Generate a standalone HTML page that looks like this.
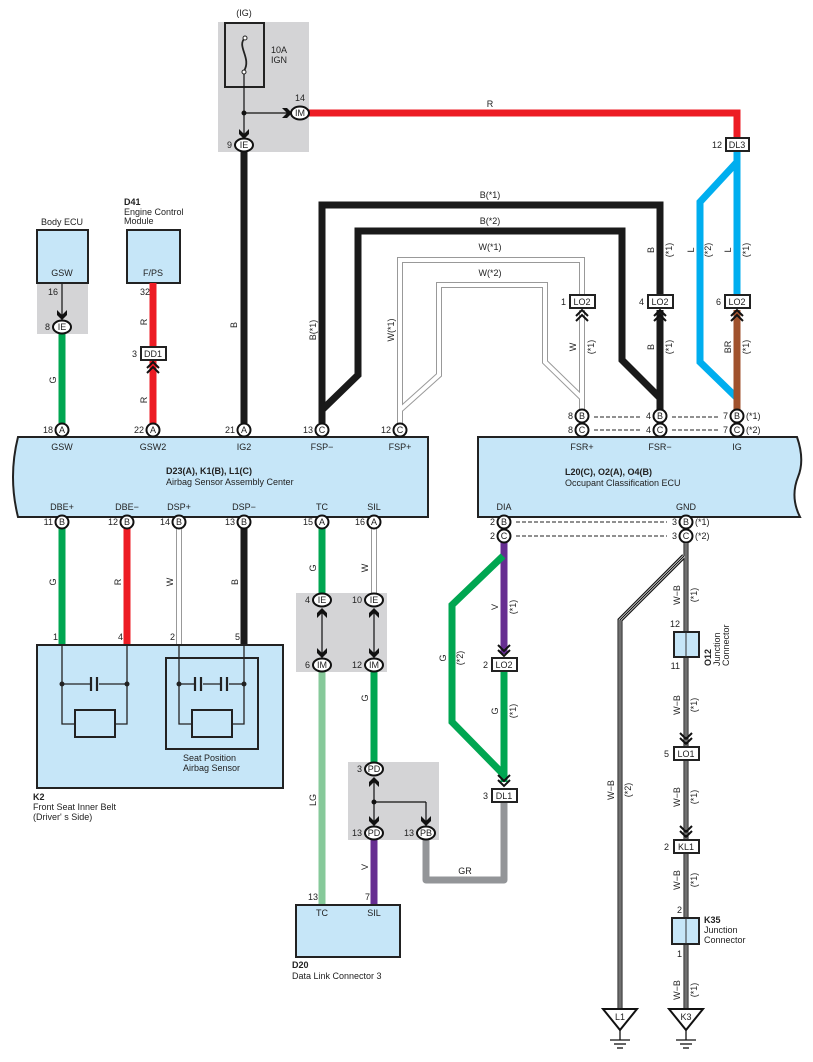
<!DOCTYPE html>
<html><head><meta charset="utf-8"><style>
html,body{margin:0;padding:0;background:#fff}
svg{display:block}
text{font-family:"Liberation Sans",Arial,sans-serif;font-size:9px;fill:#222}
.b{font-weight:bold}
.m{text-anchor:middle}
.e{text-anchor:end}
</style></head><body>
<svg width="813" height="1062" viewBox="0 0 813 1062" xmlns="http://www.w3.org/2000/svg">
<defs>
<path id="ad" d="M-5,-9 L0,-4 L5,-9 L5,-4 L0,1 L-5,-4 Z" fill="#111"/>
<path id="au" d="M-5,9 L0,4 L5,9 L5,4 L0,-1 L-5,4 Z" fill="#111"/>
<g id="cu" fill="none" stroke="#111" stroke-width="2"><polyline points="-6,5 0,-1 6,5"/><polyline points="-6,10 0,4 6,10"/></g>
<g id="cd" fill="none" stroke="#111" stroke-width="2"><polyline points="-6,-5 0,1 6,-5"/><polyline points="-6,-10 0,-4 6,-10"/></g>
</defs>

<rect x="218" y="22" width="91" height="130" fill="#d4d4d6"/>
<rect x="37" y="283" width="51" height="51" fill="#d4d4d6"/>
<rect x="296" y="593" width="91" height="79" fill="#d4d4d6"/>
<rect x="348" y="762" width="91" height="78" fill="#d4d4d6"/>

<text x="244" y="16" class="m">(IG)</text>
<rect x="225" y="23" width="39" height="64" fill="none" stroke="#222" stroke-width="2"/>
<path d="M245,38 C236,46 252,58 244,71" fill="none" stroke="#222" stroke-width="1.8"/>
<circle cx="245" cy="38" r="2" fill="#fff" stroke="#222"/><circle cx="244" cy="72" r="2" fill="#fff" stroke="#222"/>
<text x="271" y="53">10A</text><text x="271" y="63">IGN</text>
<line x1="244" y1="74" x2="244" y2="137" stroke="#111" stroke-width="1.2"/>
<line x1="244" y1="113" x2="288" y2="113" stroke="#111" stroke-width="1.2"/>
<circle cx="244" cy="113" r="2.5" fill="#111"/>
<use href="#ad" x="244" y="138"/>
<path d="M282,108 L287,113 L282,118 L287,118 L292,113 L287,108Z" fill="#111"/>

<polyline points="309,113 737,113 737,138" fill="none" stroke="#ed1c24" stroke-width="7"/>
<text x="490" y="107" class="m">R</text>
<text x="300" y="101" class="m">14</text>

<line x1="244" y1="152" x2="244" y2="423" stroke="#1a1a1a" stroke-width="7"/>

<text x="62" y="225" class="m">Body ECU</text>
<rect x="37" y="230" width="51" height="53" fill="#c6e6f8" stroke="#222" stroke-width="2"/>
<text x="62" y="276" class="m">GSW</text>
<text x="53" y="295" class="m">16</text>
<line x1="62" y1="284" x2="62" y2="318" stroke="#111" stroke-width="1.2"/>
<use href="#ad" x="62" y="319"/>
<line x1="62" y1="334" x2="62" y2="423" stroke="#00a651" stroke-width="7"/>

<text x="124" y="205" class="b">D41</text>
<text x="124" y="215">Engine Control</text><text x="124" y="224">Module</text>
<rect x="127" y="230" width="53" height="53" fill="#c6e6f8" stroke="#222" stroke-width="2"/>
<text x="153" y="276" class="m">F/PS</text>
<line x1="153" y1="283" x2="153" y2="423" stroke="#ed1c24" stroke-width="7"/>
<text x="145" y="295" class="m">32</text>

<polyline points="322,423 322,205 660,205 660,300" fill="none" stroke="#1a1a1a" stroke-width="7"/>
<polyline points="322,410 358,375 358,231 622,231 622,360 660,398 660,423" fill="none" stroke="#1a1a1a" stroke-width="7"/>
<line x1="660" y1="310" x2="660" y2="423" stroke="#1a1a1a" stroke-width="7"/>
<g fill="none" stroke="#999" stroke-width="6"><polyline points="400,423 400,260 582,260 582,300"/><polyline points="400,410 439,375 439,285 545,285 545,362 582,398 582,423"/><line x1="582" y1="310" x2="582" y2="423"/></g>
<g fill="none" stroke="#fff" stroke-width="4"><polyline points="400,423 400,260 582,260 582,300"/><polyline points="400,410 439,375 439,285 545,285 545,362 582,398 582,423"/><line x1="582" y1="310" x2="582" y2="423"/></g>
<polyline points="737,152 737,300" fill="none" stroke="#00aeef" stroke-width="7"/>
<polyline points="737,162 700,202 700,362 737,398" fill="none" stroke="#00aeef" stroke-width="7"/>
<line x1="737" y1="310" x2="737" y2="423" stroke="#a0522d" stroke-width="7"/>

<text x="490" y="198" class="m">B(*1)</text>
<text x="490" y="224" class="m">B(*2)</text>
<text x="490" y="250" class="m">W(*1)</text>
<text x="490" y="276" class="m">W(*2)</text>
<g font-size="9">
<text transform="translate(237,325) rotate(-90)" class="m">B</text>
<text transform="translate(316,330) rotate(-90)" class="m">B(*1)</text>
<text transform="translate(394,330) rotate(-90)" class="m">W(*1)</text>
<text transform="translate(56,380) rotate(-90)" class="m">G</text>
<text transform="translate(147,322) rotate(-90)" class="m">R</text>
<text transform="translate(147,400) rotate(-90)" class="m">R</text>
<text transform="translate(654,250) rotate(-90)" class="m">B</text>
<text transform="translate(672,250) rotate(-90)" class="m">(*1)</text>
<text transform="translate(654,347) rotate(-90)" class="m">B</text>
<text transform="translate(672,347) rotate(-90)" class="m">(*1)</text>
<text transform="translate(576,347) rotate(-90)" class="m">W</text>
<text transform="translate(594,347) rotate(-90)" class="m">(*1)</text>
<text transform="translate(694,250) rotate(-90)" class="m">L</text>
<text transform="translate(711,250) rotate(-90)" class="m">(*2)</text>
<text transform="translate(731,250) rotate(-90)" class="m">L</text>
<text transform="translate(749,250) rotate(-90)" class="m">(*1)</text>
<text transform="translate(731,347) rotate(-90)" class="m">BR</text>
<text transform="translate(749,347) rotate(-90)" class="m">(*1)</text>
</g>

<g fill="#fff" stroke="#222" stroke-width="2">
<rect x="570" y="295" width="25" height="13"/><rect x="648" y="295" width="25" height="13"/><rect x="725" y="295" width="25" height="13"/>
<rect x="141" y="347" width="25" height="13"/><rect x="726" y="138" width="23" height="13"/>
</g>
<text x="582" y="305" class="m">LO2</text><text x="660" y="305" class="m">LO2</text><text x="737" y="305" class="m">LO2</text>
<text x="153" y="357" class="m">DD1</text><text x="737" y="148" class="m">DL3</text>
<text x="566" y="305" class="e">1</text><text x="644" y="305" class="e">4</text><text x="721" y="305" class="e">6</text>
<text x="137" y="357" class="e">3</text><text x="722" y="148" class="e">12</text>
<use href="#cu" x="582" y="311"/><use href="#cu" x="660" y="311"/><use href="#cu" x="737" y="311"/><use href="#cu" x="153" y="363"/>

<g fill="#fff" stroke="#111" stroke-width="2">
<ellipse cx="244" cy="145" rx="9" ry="6.5"/><ellipse cx="300" cy="113" rx="9" ry="6.5"/><ellipse cx="62" cy="327" rx="9" ry="6.5"/>
</g>
<text x="244" y="148" class="m">IE</text><text x="300" y="116" class="m">IM</text><text x="62" y="330" class="m">IE</text>
<text x="232" y="148" class="e">9</text><text x="50" y="330" class="e">8</text>

<path d="M18,437 L428,437 L428,517 L18,517 Q8,477 18,437Z" fill="#c6e6f8" stroke="#222" stroke-width="2"/>
<text x="62" y="450" class="m">GSW</text><text x="153" y="450" class="m">GSW2</text><text x="244" y="450" class="m">IG2</text><text x="322" y="450" class="m">FSP−</text><text x="400" y="450" class="m">FSP+</text>
<text x="62" y="510" class="m">DBE+</text><text x="127" y="510" class="m">DBE−</text><text x="179" y="510" class="m">DSP+</text><text x="244" y="510" class="m">DSP−</text><text x="322" y="510" class="m">TC</text><text x="374" y="510" class="m">SIL</text>
<text x="166" y="474" class="b">D23(A), K1(B), L1(C)</text>
<text x="166" y="485">Airbag Sensor Assembly Center</text>

<path d="M478,437 L797,437 Q805,460 798,477 Q790,497 800,517 L478,517Z" fill="#c6e6f8" stroke="#222" stroke-width="2"/>
<text x="582" y="450" class="m">FSR+</text><text x="660" y="450" class="m">FSR−</text><text x="737" y="450" class="m">IG</text>
<text x="504" y="510" class="m">DIA</text><text x="686" y="510" class="m">GND</text>
<text x="565" y="475" class="b">L20(C), O2(A), O4(B)</text>
<text x="565" y="486">Occupant Classification ECU</text>

<g stroke="#222" stroke-width="1" stroke-dasharray="4,2">
<line x1="594" y1="417" x2="641" y2="417"/><line x1="594" y1="430" x2="641" y2="430"/>
<line x1="672" y1="417" x2="718" y2="417"/><line x1="672" y1="430" x2="718" y2="430"/>
<line x1="516" y1="522" x2="667" y2="522"/><line x1="516" y1="536" x2="667" y2="536"/>
</g>

<line x1="62" y1="528" x2="62" y2="645" stroke="#00a651" stroke-width="7"/>
<line x1="127" y1="528" x2="127" y2="645" stroke="#ed1c24" stroke-width="7"/>
<line x1="179" y1="528" x2="179" y2="645" stroke="#999" stroke-width="6"/><line x1="179" y1="528" x2="179" y2="645" stroke="#fff" stroke-width="4"/>
<line x1="244" y1="528" x2="244" y2="645" stroke="#1a1a1a" stroke-width="7"/>
<line x1="322" y1="528" x2="322" y2="593" stroke="#00a651" stroke-width="7"/>
<line x1="374" y1="528" x2="374" y2="593" stroke="#999" stroke-width="6"/><line x1="374" y1="528" x2="374" y2="593" stroke="#fff" stroke-width="4"/>
<line x1="322" y1="672" x2="322" y2="905" stroke="#86c99a" stroke-width="7"/>
<line x1="374" y1="672" x2="374" y2="762" stroke="#00a651" stroke-width="7"/>
<line x1="374" y1="840" x2="374" y2="905" stroke="#662d91" stroke-width="7"/>
<polyline points="426,840 426,880 504,880 504,802" fill="none" stroke="#939598" stroke-width="7" stroke-linejoin="round"/>
<line x1="504" y1="542" x2="504" y2="654" stroke="#662d91" stroke-width="7"/>
<line x1="504" y1="671" x2="504" y2="782" stroke="#00a651" stroke-width="7"/>
<polyline points="503,556 452,605 452,722 503,774" fill="none" stroke="#00a651" stroke-width="7"/>

<g font-size="9">
<text transform="translate(56,582) rotate(-90)" class="m">G</text>
<text transform="translate(121,582) rotate(-90)" class="m">R</text>
<text transform="translate(173,582) rotate(-90)" class="m">W</text>
<text transform="translate(238,582) rotate(-90)" class="m">B</text>
<text transform="translate(316,568) rotate(-90)" class="m">G</text>
<text transform="translate(368,568) rotate(-90)" class="m">W</text>
<text transform="translate(368,698) rotate(-90)" class="m">G</text>
<text transform="translate(316,800) rotate(-90)" class="m">LG</text>
<text transform="translate(368,867) rotate(-90)" class="m">V</text>
<text transform="translate(498,607) rotate(-90)" class="m">V</text>
<text transform="translate(516,607) rotate(-90)" class="m">(*1)</text>
<text transform="translate(446,658) rotate(-90)" class="m">G</text>
<text transform="translate(463,658) rotate(-90)" class="m">(*2)</text>
<text transform="translate(498,711) rotate(-90)" class="m">G</text>
<text transform="translate(516,711) rotate(-90)" class="m">(*1)</text>
</g>
<text x="465" y="874" class="m">GR</text>

<g fill="#fff" stroke="#111" stroke-width="2">
<circle cx="62" cy="430" r="6.5"/><circle cx="153" cy="430" r="6.5"/><circle cx="244" cy="430" r="6.5"/><circle cx="322" cy="430" r="6.5"/><circle cx="400" cy="430" r="6.5"/>
<circle cx="582" cy="416" r="6.5"/><circle cx="660" cy="416" r="6.5"/><circle cx="737" cy="416" r="6.5"/>
<circle cx="582" cy="430" r="6.5"/><circle cx="660" cy="430" r="6.5"/><circle cx="737" cy="430" r="6.5"/>
<circle cx="62" cy="522" r="6.5"/><circle cx="127" cy="522" r="6.5"/><circle cx="179" cy="522" r="6.5"/><circle cx="244" cy="522" r="6.5"/><circle cx="322" cy="522" r="6.5"/><circle cx="374" cy="522" r="6.5"/>
<circle cx="504" cy="522" r="6.5"/><circle cx="504" cy="536" r="6.5"/><circle cx="686" cy="522" r="6.5"/><circle cx="686" cy="536" r="6.5"/>
</g>
<g font-size="8.5">
<text x="62" y="433" class="m">A</text><text x="153" y="433" class="m">A</text><text x="244" y="433" class="m">A</text><text x="322" y="433" class="m">C</text><text x="400" y="433" class="m">C</text>
<text x="582" y="419" class="m">B</text><text x="660" y="419" class="m">B</text><text x="737" y="419" class="m">B</text>
<text x="582" y="433" class="m">C</text><text x="660" y="433" class="m">C</text><text x="737" y="433" class="m">C</text>
<text x="62" y="525" class="m">B</text><text x="127" y="525" class="m">B</text><text x="179" y="525" class="m">B</text><text x="244" y="525" class="m">B</text><text x="322" y="525" class="m">A</text><text x="374" y="525" class="m">A</text>
<text x="504" y="525" class="m">B</text><text x="504" y="539" class="m">C</text><text x="686" y="525" class="m">B</text><text x="686" y="539" class="m">C</text>
</g>
<text x="53" y="433" class="e">18</text><text x="144" y="433" class="e">22</text><text x="235" y="433" class="e">21</text><text x="313" y="433" class="e">13</text><text x="391" y="433" class="e">12</text>
<text x="573" y="419" class="e">8</text><text x="573" y="433" class="e">8</text><text x="651" y="419" class="e">4</text><text x="651" y="433" class="e">4</text><text x="728" y="419" class="e">7</text><text x="728" y="433" class="e">7</text>
<text x="746" y="419">(*1)</text><text x="746" y="433">(*2)</text>
<text x="53" y="525" class="e">11</text><text x="118" y="525" class="e">12</text><text x="170" y="525" class="e">14</text><text x="235" y="525" class="e">13</text><text x="313" y="525" class="e">15</text><text x="365" y="525" class="e">16</text>
<text x="495" y="525" class="e">2</text><text x="495" y="539" class="e">2</text><text x="677" y="525" class="e">3</text><text x="677" y="539" class="e">3</text>
<text x="695" y="525">(*1)</text><text x="695" y="539">(*2)</text>

<rect x="37" y="645" width="246" height="143" fill="#c6e6f8" stroke="#222" stroke-width="2"/>
<rect x="166" y="658" width="92" height="91" fill="none" stroke="#222" stroke-width="2"/>
<g stroke="#222" stroke-width="1.3" fill="none">
<polyline points="62,645 62,724 75,724"/><polyline points="127,645 127,724 115,724"/>
<line x1="62" y1="684" x2="90" y2="684"/><line x1="99" y1="684" x2="127" y2="684"/>
<polyline points="179,645 179,724 192,724"/><polyline points="244,645 244,724 232,724"/>
<line x1="179" y1="684" x2="194" y2="684"/><line x1="203" y1="684" x2="220" y2="684"/><line x1="229" y1="684" x2="244" y2="684"/>
</g>
<g stroke="#222" stroke-width="2.2">
<line x1="91" y1="677" x2="91" y2="691"/><line x1="97" y1="677" x2="97" y2="691"/>
<line x1="195" y1="677" x2="195" y2="691"/><line x1="201" y1="677" x2="201" y2="691"/>
<line x1="221" y1="677" x2="221" y2="691"/><line x1="227" y1="677" x2="227" y2="691"/>
</g>
<rect x="75" y="710" width="40" height="27" fill="none" stroke="#222" stroke-width="2"/>
<rect x="192" y="710" width="40" height="27" fill="none" stroke="#222" stroke-width="2"/>
<g fill="#222"><circle cx="62" cy="684" r="2.5"/><circle cx="127" cy="684" r="2.5"/><circle cx="179" cy="684" r="2.5"/><circle cx="244" cy="684" r="2.5"/></g>
<text x="58" y="640" class="e">1</text><text x="123" y="640" class="e">4</text><text x="175" y="640" class="e">2</text><text x="240" y="640" class="e">5</text>
<text x="183" y="761">Seat Position</text><text x="183" y="771">Airbag Sensor</text>
<text x="33" y="800" class="b">K2</text><text x="33" y="810">Front Seat Inner Belt</text><text x="33" y="820">(Driver' s Side)</text>

<g stroke="#111" stroke-width="1.2"><line x1="322" y1="610" x2="322" y2="656"/><line x1="374" y1="610" x2="374" y2="656"/>
<line x1="374" y1="778" x2="374" y2="824"/><line x1="374" y1="802" x2="426" y2="802"/><line x1="426" y1="802" x2="426" y2="824"/></g>
<use href="#au" x="322" y="609"/><use href="#ad" x="322" y="657"/><use href="#au" x="374" y="609"/><use href="#ad" x="374" y="657"/>
<use href="#au" x="374" y="778"/><use href="#ad" x="374" y="825"/><use href="#ad" x="426" y="825"/>
<circle cx="374" cy="802" r="2.5" fill="#111"/>
<g fill="#fff" stroke="#111" stroke-width="2">
<ellipse cx="322" cy="600" rx="9" ry="6.5"/><ellipse cx="374" cy="600" rx="9" ry="6.5"/><ellipse cx="322" cy="665" rx="9" ry="6.5"/><ellipse cx="374" cy="665" rx="9" ry="6.5"/>
<ellipse cx="374" cy="769" rx="9" ry="6.5"/><ellipse cx="374" cy="833" rx="9" ry="6.5"/><ellipse cx="426" cy="833" rx="9" ry="6.5"/>
</g>
<text x="322" y="603" class="m">IE</text><text x="374" y="603" class="m">IE</text><text x="322" y="668" class="m">IM</text><text x="374" y="668" class="m">IM</text>
<text x="374" y="772" class="m">PD</text><text x="374" y="836" class="m">PD</text><text x="426" y="836" class="m">PB</text>
<text x="310" y="603" class="e">4</text><text x="362" y="603" class="e">10</text><text x="310" y="668" class="e">6</text><text x="362" y="668" class="e">12</text>
<text x="362" y="772" class="e">3</text><text x="362" y="836" class="e">13</text><text x="414" y="836" class="e">13</text>

<rect x="296" y="905" width="104" height="52" fill="#c6e6f8" stroke="#222" stroke-width="2"/>
<text x="322" y="916" class="m">TC</text><text x="374" y="916" class="m">SIL</text>
<text x="318" y="900" class="e">13</text><text x="370" y="900" class="e">7</text>
<text x="292" y="968" class="b">D20</text><text x="292" y="979">Data Link Connector 3</text>

<use href="#cd" x="504" y="655"/><use href="#cd" x="504" y="785"/>
<g fill="#fff" stroke="#222" stroke-width="2"><rect x="492" y="658" width="25" height="13"/><rect x="492" y="789" width="25" height="13"/></g>
<text x="504" y="668" class="m">LO2</text><text x="504" y="799" class="m">DL1</text>
<text x="488" y="668" class="e">2</text><text x="488" y="799" class="e">3</text>

<g fill="none" stroke="#111" stroke-width="5"><polyline points="686,543 686,1012"/><polyline points="684,556 620,620 620,1012"/></g>
<g fill="none" stroke="#fff" stroke-width="2.6"><polyline points="686,543 686,1012"/><polyline points="684,556 620,620 620,1012"/></g>
<g fill="none" stroke="#111" stroke-width="1.2"><polyline points="686,543 686,1012"/><polyline points="684,556 620,620 620,1012"/></g>
<g font-size="9">
<text transform="translate(680,595) rotate(-90)" class="m">W−B</text><text transform="translate(697,595) rotate(-90)" class="m">(*1)</text>
<text transform="translate(680,705) rotate(-90)" class="m">W−B</text><text transform="translate(697,705) rotate(-90)" class="m">(*1)</text>
<text transform="translate(680,797) rotate(-90)" class="m">W−B</text><text transform="translate(697,797) rotate(-90)" class="m">(*1)</text>
<text transform="translate(680,880) rotate(-90)" class="m">W−B</text><text transform="translate(697,880) rotate(-90)" class="m">(*1)</text>
<text transform="translate(680,990) rotate(-90)" class="m">W−B</text><text transform="translate(697,990) rotate(-90)" class="m">(*1)</text>
<text transform="translate(614,790) rotate(-90)" class="m">W−B</text><text transform="translate(631,790) rotate(-90)" class="m">(*2)</text>
</g>
<rect x="674" y="632" width="25" height="25" fill="#c6e6f8" stroke="#222" stroke-width="2"/><line x1="686" y1="632" x2="686" y2="657" stroke="#333"/>
<text x="680" y="627" class="e">12</text><text x="680" y="669" class="e">11</text>
<text transform="translate(711,666) rotate(-90)" class="b">O12</text>
<text transform="translate(720,666) rotate(-90)">Junction</text><text transform="translate(729,666) rotate(-90)">Connector</text>
<use href="#cd" x="686" y="743"/><use href="#cd" x="686" y="836"/>
<g fill="#fff" stroke="#222" stroke-width="2"><rect x="674" y="747" width="25" height="13"/><rect x="674" y="840" width="25" height="13"/></g>
<text x="686" y="757" class="m">LO1</text><text x="686" y="850" class="m">KL1</text>
<text x="669" y="757" class="e">5</text><text x="669" y="850" class="e">2</text>
<rect x="672" y="918" width="27" height="26" fill="#c6e6f8" stroke="#222" stroke-width="2"/><line x1="686" y1="918" x2="686" y2="944" stroke="#333"/>
<text x="682" y="913" class="e">2</text><text x="682" y="957" class="e">1</text>
<text x="704" y="923" class="b">K35</text><text x="704" y="933">Junction</text><text x="704" y="943">Connector</text>

<g fill="#fff" stroke="#111" stroke-width="2"><path d="M603,1009 L637,1009 L620,1030Z"/><path d="M669,1009 L703,1009 L686,1030Z"/></g>
<text x="620" y="1020" class="m">L1</text><text x="686" y="1020" class="m">K3</text>
<g stroke="#111" stroke-width="1.3"><line x1="620" y1="1030" x2="620" y2="1040"/><line x1="610" y1="1040" x2="630" y2="1040"/><line x1="614" y1="1044" x2="626" y2="1044"/><line x1="617" y1="1048" x2="623" y2="1048"/>
<line x1="686" y1="1030" x2="686" y2="1040"/><line x1="676" y1="1040" x2="696" y2="1040"/><line x1="680" y1="1044" x2="692" y2="1044"/><line x1="683" y1="1048" x2="689" y2="1048"/></g>
</svg>
</body></html>
